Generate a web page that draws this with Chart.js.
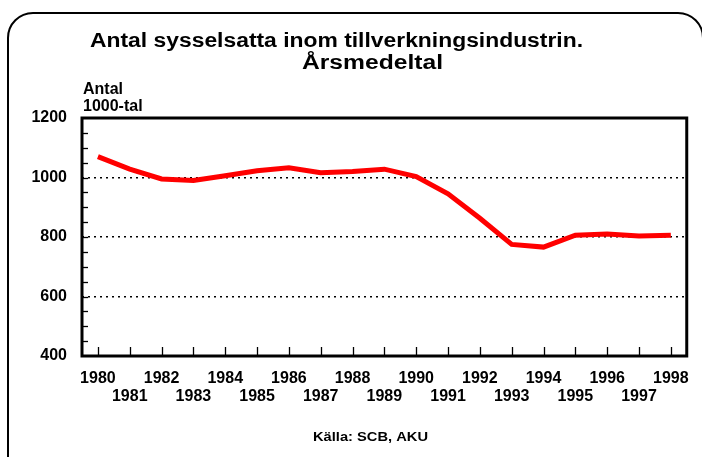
<!DOCTYPE html>
<html>
<head>
<meta charset="utf-8">
<script src="https://cdn.jsdelivr.net/npm/chart.js@4/dist/chart.umd.min.js"></script>
<style>
  body { margin: 0; background: #fff; }
  canvas { display: block; }
</style>
</head>
<body>
<canvas id="myChart" width="702" height="457"></canvas>
<script>
const years = ['1980', '1981', '1982', '1983', '1984', '1985', '1986', '1987', '1988', '1989',
    '1990', '1991', '1992', '1993', '1994', '1995', '1996', '1997', '1998'];
const employed = [1070, 1028, 995, 990, 1006, 1023, 1033, 1016, 1020, 1028,
    1003, 945, 863, 775, 766, 806, 810, 803, 806];
const yLabelValues = [400, 600, 800, 1000, 1200];
const gridValues = [600, 800, 1000];

const FONT = '"Liberation Sans", Arial, sans-serif';

// staggered year labels: even years on first row, odd on second
const labels = years.map((y, i) => i % 2 === 0 ? [y, ''] : ['', y]);

// draws text centred at cx, stretched horizontally to the given width
function fitText(ctx, text, cx, baseline, width, font) {
    ctx.save();
    ctx.font = font;
    const w = ctx.measureText(text).width;
    ctx.translate(cx, baseline);
    ctx.scale(width / w, 1);
    ctx.textAlign = 'center';
    ctx.fillText(text, 0, 0);
    ctx.restore();
}

const decorations = {
    id: 'decorations',
    afterDraw(chart) {
        const ctx = chart.ctx;
        const area = chart.chartArea;
        const xs = chart.scales.x;
        const ys = chart.scales.y;
        ctx.save();

        // outer rounded frame
        ctx.strokeStyle = '#000';
        ctx.lineWidth = 2;
        ctx.beginPath();
        ctx.roundRect(8, 13, 695, 480, 25);
        ctx.stroke();

        // minor ticks on the y axis, inward
        ctx.lineWidth = 1.3;
        for (let v = ys.min + 50; v < ys.max; v += 50) {
            const py = Math.round(ys.getPixelForValue(v)) + 0.5;
            ctx.beginPath();
            ctx.moveTo(area.left, py);
            ctx.lineTo(area.left + 6, py);
            ctx.stroke();
        }
        // x ticks at each year, inward from the bottom
        years.forEach((y, i) => {
            const px = Math.round(xs.getPixelForValue(i)) + 0.5;
            ctx.beginPath();
            ctx.moveTo(px, area.bottom);
            ctx.lineTo(px, area.bottom - 9);
            ctx.stroke();
        });

        // plot frame
        ctx.lineWidth = 3;
        ctx.strokeRect(area.left, area.top, area.right - area.left, area.bottom - area.top);

        // titles
        ctx.fillStyle = '#000';
        ctx.textBaseline = 'alphabetic';
        fitText(ctx, 'Antal sysselsatta inom tillverkningsindustrin.', 336.5, 47, 493, 'bold 20px ' + FONT);
        fitText(ctx, 'Årsmedeltal', 372.5, 69, 141, 'bold 20px ' + FONT);

        ctx.textAlign = 'left';
        ctx.font = 'bold 16px ' + FONT;
        ctx.fillText('Antal', 83, 94);
        ctx.fillText('1000-tal', 83, 111);

        fitText(ctx, 'Källa: SCB, AKU', 370.5, 441, 115, 'bold 13px ' + FONT);
        ctx.restore();
    }
};

new Chart(document.getElementById('myChart').getContext('2d'), {
    type: 'line',
    data: {
        labels: labels,
        datasets: [{
            data: employed,
            borderColor: 'rgb(255, 0, 0)',
            borderWidth: 5,
            pointRadius: 0,
            tension: 0,
            fill: false
        }]
    },
    options: {
        responsive: false,
        animation: false,
        layout: { padding: { top: 118, right: 14, left: 0, bottom: 0 } },
        plugins: {
            legend: { display: false },
            title: { display: false },
            tooltip: { enabled: false }
        },
        scales: {
            x: {
                offset: true,
                afterFit(scale) { scale.height = 101; },
                grid: { display: false, drawTicks: false },
                border: { display: false },
                ticks: {
                    autoSkip: false,
                    maxRotation: 0,
                    padding: 13,
                    color: '#000',
                    font: { family: FONT, size: 16, weight: 'bold', lineHeight: 1.15 }
                }
            },
            y: {
                min: 400,
                max: 1200,
                afterFit(scale) { scale.width = 82; },
                border: { display: false, dash: [2, 4] },
                grid: {
                    drawTicks: false,
                    lineWidth: 1.5,
                    color: c => gridValues.includes(c.tick.value) ? '#000' : 'transparent'
                },
                ticks: {
                    stepSize: 50,
                    autoSkip: false,
                    padding: 15,
                    color: '#000',
                    font: { family: FONT, size: 16, weight: 'bold' },
                    callback: v => yLabelValues.includes(v) ? String(v) : ''
                }
            }
        }
    },
    plugins: [decorations]
});
</script>
</body>
</html>
